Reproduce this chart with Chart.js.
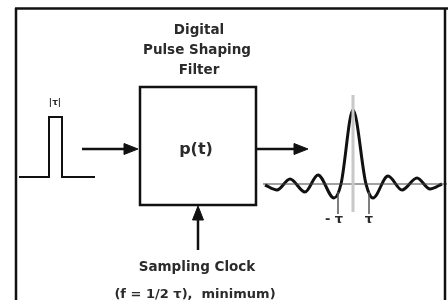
<!DOCTYPE html>
<html lang="en">
<head>
  <meta charset="UTF-8">
  <title>Digital pulse shaping filter</title>
  <script src="https://cdn.jsdelivr.net/npm/chart.js@4.4.0/dist/chart.umd.min.js"></script>
  <style>
    body { margin: 0; background: #fff; }
  </style>
</head>
<body>
  <canvas id="myChart" width="448" height="300"></canvas>

  <script>
    // frame round the picture
    const frameTopX = [15, 448];
    const frameTopY = [8.5, 8.5];
    const frameLeftX = [16, 16];
    const frameLeftY = [8, 300];
    const frameRightX = [445, 445];
    const frameRightY = [9, 300];

    // filter box
    const boxX = [140, 256, 256, 140, 140, 256];
    const boxY = [87, 87, 205, 205, 87, 87];

    // input pulse
    const pulseX = [19, 49, 49, 62, 62, 95];
    const pulseY = [177, 177, 117, 117, 177, 177];

    // arrows (shaft + head)
    const inArrowX = [82, 128];
    const inArrowY = [149, 149];
    const inHeadX = [124, 138, 124, 124];
    const inHeadY = [143.5, 149, 154.5, 143.5];
    const outArrowX = [256, 298];
    const outArrowY = [149, 149];
    const outHeadX = [294, 308, 294, 294];
    const outHeadY = [143.5, 149, 154.5, 143.5];
    const clkArrowX = [198, 198];
    const clkArrowY = [250, 216];
    const clkHeadX = [192.5, 198, 203.5, 192.5];
    const clkHeadY = [220, 206, 220, 220];

    // output pulse (sinc-like response)
    const waveX = [265, 277, 290, 305, 318, 334, 341, 353, 366, 373, 388, 402, 417, 430, 442];
    const waveY = [185, 190, 179, 192, 175, 198, 184, 110, 184, 198, 176, 190, 178, 189, 184];
    const axisX = [263, 447];
    const axisY = [184, 184];
    const centerX = [353, 353];
    const centerY = [95, 212];
    const tauLeftX = [338, 338];
    const tauLeftY = [192, 214];
    const tauRightX = [369, 369];
    const tauRightY = [192, 214];

    // text labels
    const labelText = ['Digital', 'Pulse Shaping', 'Filter', 'p(t)', '|τ|', '- τ', 'τ',
                       'Sampling Clock', '(f = 1/2 τ),  minimum)'];
    const labelX = [199, 197, 199, 196, 55, 334, 369, 197, 195];
    const labelY = [30, 50, 70, 150, 103, 220, 220, 267, 295];
    const labelSize = [13.5, 13.5, 13.5, 16, 9, 13, 13, 13.5, 13];

    function pts(xs, ys) {
      return xs.map((x, i) => ({x: x, y: ys[i]}));
    }

    function line(xs, ys, color, width, extra) {
      return Object.assign({
        data: pts(xs, ys),
        borderColor: color,
        borderWidth: width,
        borderJoinStyle: 'miter',
        pointRadius: 0,
        fill: false,
        tension: 0
      }, extra || {});
    }

    function head(xs, ys) {
      return line(xs, ys, '#111', 1, {fill: 'shape', backgroundColor: '#111'});
    }

    const textPlugin = {
      id: 'texts',
      afterDatasetsDraw(chart) {
        const ctx = chart.ctx;
        const sx = chart.scales.x;
        const sy = chart.scales.y;
        ctx.save();
        ctx.fillStyle = '#2b2b2b';
        ctx.textAlign = 'center';
        ctx.textBaseline = 'middle';
        labelText.forEach((t, i) => {
          ctx.font = 'bold ' + labelSize[i] + 'px "DejaVu Sans", Verdana, sans-serif';
          ctx.fillText(t, sx.getPixelForValue(labelX[i]), sy.getPixelForValue(labelY[i]));
        });
        ctx.restore();
      }
    };

    const ctx = document.getElementById('myChart').getContext('2d');
    const myChart = new Chart(ctx, {
      type: 'scatter',
      data: {
        datasets: [
          line(frameTopX, frameTopY, '#111', 2.5),
          line(frameLeftX, frameLeftY, '#111', 2.5),
          line(frameRightX, frameRightY, '#111', 2.5),
          line(centerX, centerY, '#c8c8c8', 3),
          line(axisX, axisY, '#444', 1),
          line(tauLeftX, tauLeftY, '#555', 1.5),
          line(tauRightX, tauRightY, '#555', 1.5),
          line(boxX, boxY, '#111', 2.5),
          line(pulseX, pulseY, '#111', 2),
          line(inArrowX, inArrowY, '#111', 2.5),
          head(inHeadX, inHeadY),
          line(outArrowX, outArrowY, '#111', 2.5),
          head(outHeadX, outHeadY),
          line(clkArrowX, clkArrowY, '#111', 2.5),
          head(clkHeadX, clkHeadY),
          line(waveX, waveY, '#111', 3, {cubicInterpolationMode: 'monotone'})
        ]
      },
      options: {
        responsive: false,
        animation: false,
        showLine: true,
        layout: { padding: 0 },
        plugins: { legend: { display: false }, tooltip: { enabled: false } },
        scales: {
          x: { type: 'linear', min: 0, max: 448, display: false },
          y: { type: 'linear', min: 0, max: 300, reverse: true, display: false }
        }
      },
      plugins: [textPlugin]
    });
  </script>
</body>
</html>
